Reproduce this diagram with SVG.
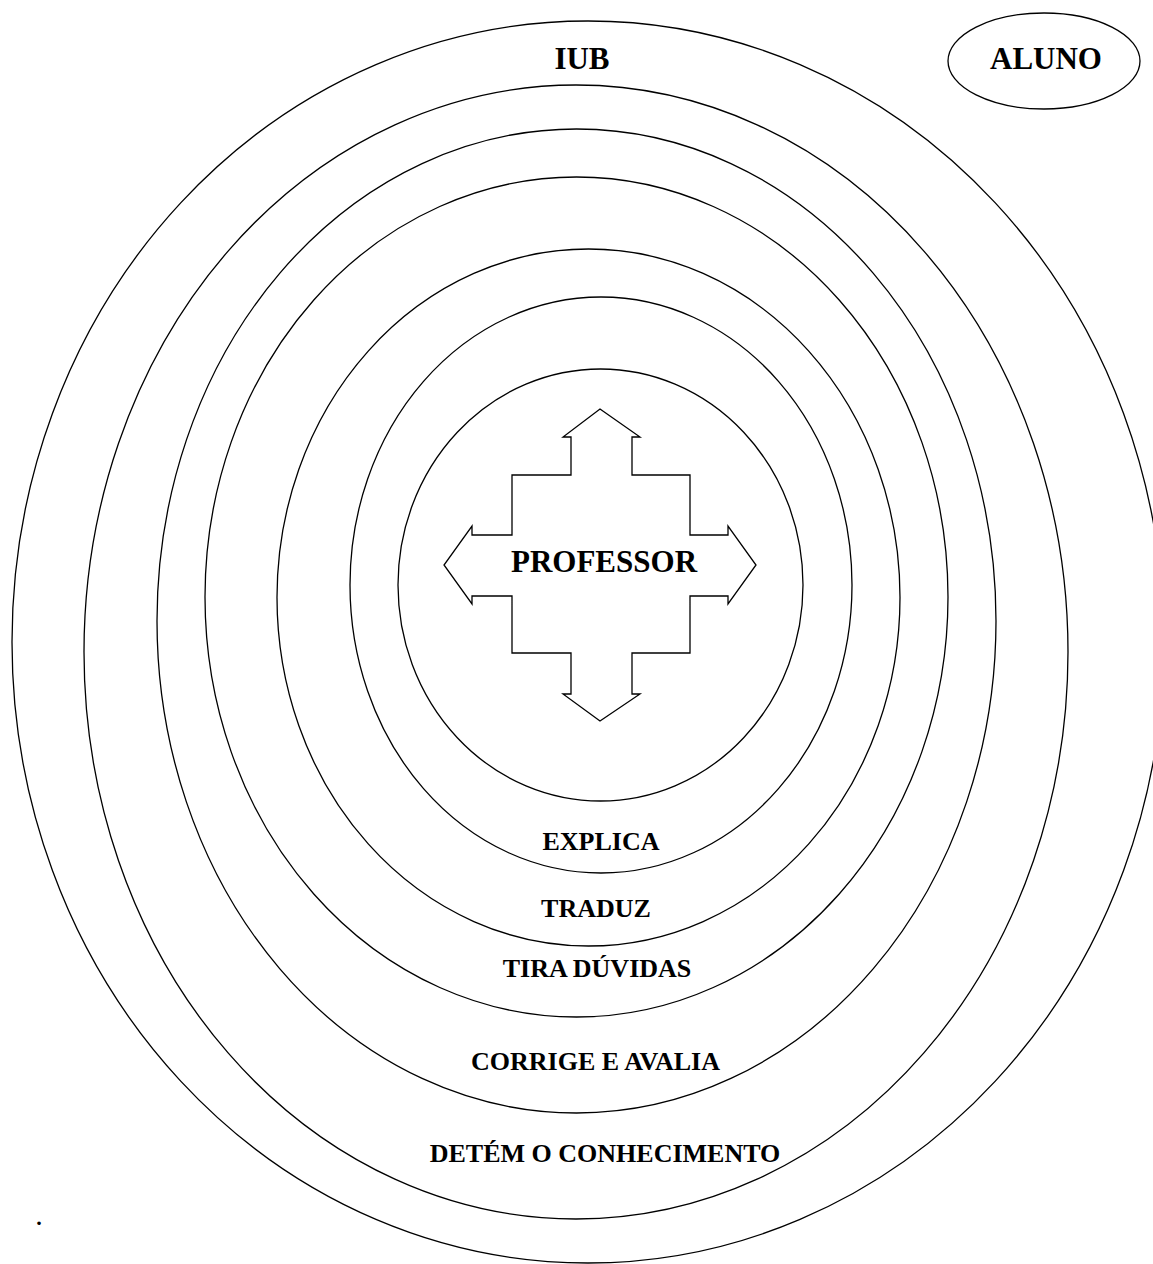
<svg xmlns="http://www.w3.org/2000/svg" width="1153" height="1264" viewBox="0 0 1153 1264">
<style>
.ring{fill:none;stroke:#000;stroke-width:1.3}
.lbl{font-family:"Liberation Serif","Times New Roman",serif;font-weight:bold;fill:#000;text-anchor:middle}
.big{font-size:31px}
.mid{font-size:26px}
</style>
<rect width="1153" height="1264" fill="#fff"/>
<g id="ring-iub"><ellipse class="ring" cx="588" cy="642" rx="576" ry="621"/><text class="lbl big" x="582" y="69">IUB</text></g>
<g id="ring-detem"><ellipse class="ring" cx="576" cy="652" rx="492" ry="567"/><text class="lbl mid" x="605" y="1162">DETÉM O CONHECIMENTO</text></g>
<g id="ring-corrige"><ellipse class="ring" cx="576.5" cy="621" rx="419.5" ry="492"/><text class="lbl mid" x="595.5" y="1070">CORRIGE E AVALIA</text></g>
<g id="ring-tira"><ellipse class="ring" cx="576.5" cy="597" rx="371.5" ry="420"/><text class="lbl mid" x="597" y="977">TIRA DÚVIDAS</text></g>
<g id="ring-traduz"><ellipse class="ring" cx="588.5" cy="597.5" rx="311.5" ry="348.5"/><text class="lbl mid" x="596" y="917">TRADUZ</text></g>
<g id="ring-explica"><ellipse class="ring" cx="601" cy="585" rx="251" ry="288"/><text class="lbl mid" x="601" y="850">EXPLICA</text></g>
<g id="ring-inner"><ellipse class="ring" cx="600.5" cy="585" rx="202.5" ry="216"/></g>
<g id="professor">
<polygon class="ring" points="600,409 640,437 632,437 632,475 690,475 690,535 728,535 728,526 756,565 728,604 728,596 690,596 690,653 632,653 632,694 640,694 600,721 563,694 571,694 571,653 512,653 512,596 472,596 472,604 444,565 472,526 472,535 512,535 512,475 571,475 571,437 563,437"/>
<text class="lbl big" x="604" y="572">PROFESSOR</text>
</g>
<g id="aluno"><ellipse class="ring" cx="1044" cy="61" rx="96" ry="48"/><text class="lbl big" x="1046" y="69">ALUNO</text></g>
<g id="connectors"></g>
<text x="39" y="1225" style="font-family:'Liberation Serif',serif;font-size:22px;font-weight:bold;text-anchor:middle">.</text>
</svg>
